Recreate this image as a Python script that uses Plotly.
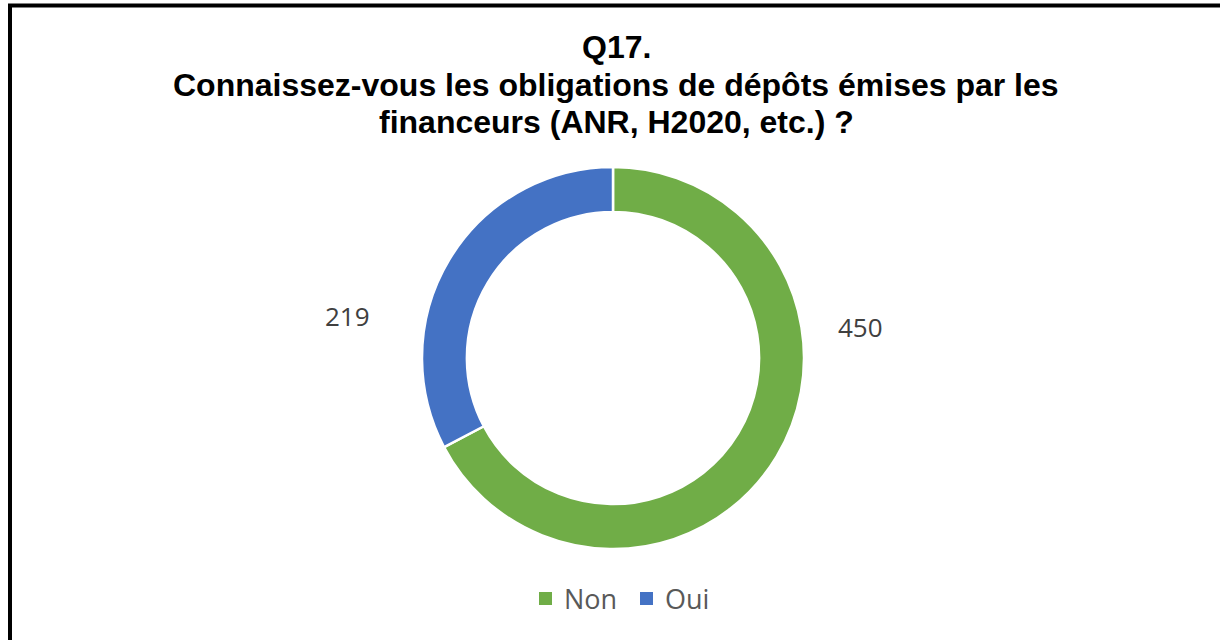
import plotly.graph_objects as go

# Survey answers for Q17
labels = ["Non", "Oui"]
values = [450, 219]
colors = ["#70AD47", "#4472C4"]

title_lines = [
    "Q17.",
    "Connaissez-vous les obligations de dépôts émises par les",
    "financeurs (ANR, H2020, etc.) ?",
]

W, H = 1220, 640
cx, cy, r = 613, 358, 191  # donut centre / radius in px

fig = go.Figure(
    go.Pie(
        labels=labels,
        values=values,
        hole=0.765,
        sort=False,
        direction="clockwise",
        rotation=0,
        marker=dict(colors=colors, line=dict(color="white", width=2.5)),
        textinfo="none",
        hoverinfo="label+value",
        showlegend=False,
        domain=dict(
            x=[(cx - r) / W, (cx + r) / W],
            y=[(H - cy - r) / H, (H - cy + r) / H],
        ),
    )
)

def px_x(x):
    return x / W

def px_y(y):
    return 1 - y / H

# value labels outside the ring
label_pos = {"Non": (860, 327), "Oui": (347, 316)}
for lab, val in zip(labels, values):
    x, y = label_pos[lab]
    fig.add_annotation(
        x=px_x(x), y=px_y(y), xref="paper", yref="paper",
        text=str(val), showarrow=False,
        font=dict(family="Open Sans", size=26, color="#404040"),
        xanchor="center", yanchor="middle",
    )

# title, one line at a time
for line, y in zip(title_lines, [47, 85, 122]):
    fig.add_annotation(
        x=px_x(616), y=px_y(y), xref="paper", yref="paper",
        text=f"<b>{line}</b>", showarrow=False,
        font=dict(family="Liberation Sans, Arial", size=32, color="#000000"),
        xanchor="center", yanchor="middle",
    )

# legend: coloured squares followed by category names
legend_x = {"Non": 539, "Oui": 640}
for lab, col in zip(labels, colors):
    x0 = legend_x[lab]
    fig.add_shape(
        type="rect", xref="paper", yref="paper",
        x0=px_x(x0), x1=px_x(x0 + 13), y0=px_y(605), y1=px_y(592),
        line=dict(width=0), fillcolor=col,
    )
    fig.add_annotation(
        x=px_x(x0 + 23), y=px_y(598), xref="paper", yref="paper",
        text=lab, showarrow=False,
        font=dict(family="Open Sans", size=27, color="#595959"),
        xanchor="left", yanchor="middle",
    )

# chart frame (extends past the right/bottom edges)
fig.add_shape(
    type="rect", xref="paper", yref="paper",
    x0=px_x(10), y0=-0.05, x1=1.05, y1=px_y(5.5),
    line=dict(color="black", width=4), fillcolor="rgba(0,0,0,0)",
)

fig.update_layout(
    width=W, height=H,
    margin=dict(l=0, r=0, t=0, b=0),
    paper_bgcolor="white", plot_bgcolor="white",
    showlegend=False,
)

fig.write_html("out.html")
